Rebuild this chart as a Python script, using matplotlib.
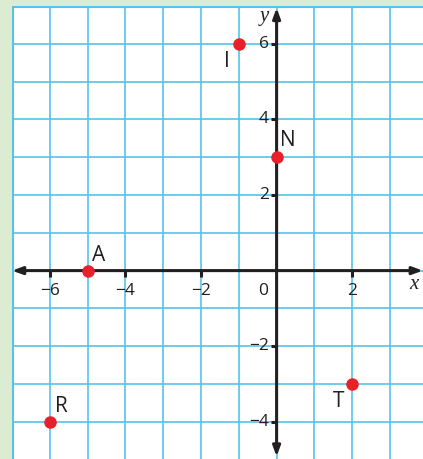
import matplotlib.pyplot as plt

# Points on the grid
names = ['I', 'N', 'A', 'R', 'T']
px = [-1, 0, -5, -6, 2]
py = [6, 3, 0, -4, -3]
# where each letter sits
lab_x = [-1.31, 0.30, -4.70, -5.70, 1.65]
lab_y = [5.54, 3.43, 0.39, -3.60, -3.47]

xticks = [-6, -4, -2, 2]
yticks = [6, 4, 2, -2, -4]

grid_col = '#55c3e8'
axis_col = '#231f20'
font = 'Open Sans'

fig = plt.figure(figsize=(4.23, 4.59), dpi=100)
fig.patch.set_facecolor('#dcecd2')
ax = fig.add_axes([12 / 423, 0, 411 / 423, 453 / 459])
ax.set_xlim(-7, -7 + 411 / 37.8)
ax.set_ylim(7 - 453 / 37.8, 7)
ax.set_facecolor('white')
for s in ax.spines.values():
    s.set_visible(False)
ax.set_xticks([])
ax.set_yticks([])

# square grid
for gx in range(-7, 4):
    ax.axvline(gx, color=grid_col, lw=1.2 if gx > -7 else 2.2, zorder=1)
for gy in range(-5, 8):
    ax.axhline(gy, color=grid_col, lw=1.2 if gy < 7 else 2.2, zorder=1)

# axes with arrows
arr = dict(arrowstyle='<|-|>,head_length=0.6,head_width=0.22', color=axis_col,
           lw=2.2, shrinkA=0, shrinkB=0)
ax.annotate('', xy=(3.87, 0), xytext=(-7.0, 0), arrowprops=arr, zorder=3)
ax.annotate('', xy=(0, 6.95), xytext=(0, -4.92), arrowprops=arr, zorder=3)

# tick marks and labels
for t in xticks:
    ax.plot([t, t], [0, -0.16], color=axis_col, lw=2.2, zorder=3,
            solid_capstyle='butt')
    ax.text(t, -0.54, '\u2212' + str(-t) if t < 0 else str(t), ha='center',
            va='center', fontsize=12.5, family=font, color=axis_col)
for t in yticks:
    ax.plot([0, -0.16], [t, t], color=axis_col, lw=2.2, zorder=3,
            solid_capstyle='butt')
    ax.text(-0.2, t, '\u2212' + str(-t) if t < 0 else str(t), ha='right',
            va='center', fontsize=12.5, family=font, color=axis_col)
ax.text(-0.36, -0.54, '0', ha='center', va='center', fontsize=12.5,
        family=font, color=axis_col)

ax.text(3.63, -0.38, 'x', ha='center', va='center', fontsize=15,
        family='Liberation Serif', style='italic', color=axis_col)
ax.text(-0.33, 6.71, 'y', ha='center', va='center', fontsize=15,
        family='Liberation Serif', style='italic', color=axis_col)

# the points
ax.plot(px, py, 'o', color='#e8202a', markersize=8, zorder=4, clip_on=False)
for n, lx, ly in zip(names, lab_x, lab_y):
    ax.text(lx, ly, n, ha='center', va='center', fontsize=15, family=font,
            color=axis_col)

fig.savefig('out.png', dpi=100, facecolor=fig.get_facecolor())
